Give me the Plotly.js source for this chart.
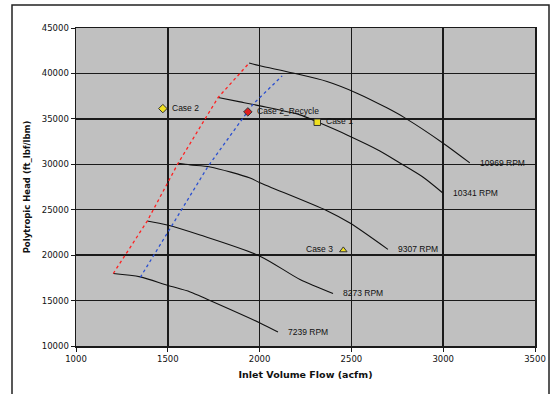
<!DOCTYPE html>
<html>
<head>
<meta charset="utf-8">
<script src="https://cdn.plot.ly/plotly-3.0.1.min.js"></script>
<style>html,body{margin:0;padding:0;background:#fff;}#chart{width:558px;height:394px;}</style>
</head>
<body>
<div id="chart"></div>
<script>
// Speed curves (inlet volume flow, acfm ; polytropic head, ft_lbf/lbm)
const rpm10969_x = [1943, 2002, 2182, 2367, 2530, 2693, 2791, 2998, 3145];
const rpm10969_y = [41140, 40840, 40040, 39110, 37830, 36210, 35110, 32350, 30150];
const rpm10341_x = [1774, 1894, 2002, 2220, 2313, 2476, 2655, 2764, 2889, 2998];
const rpm10341_y = [37350, 36870, 36430, 35440, 34670, 33230, 31470, 30150, 28600, 26840];
const rpm9307_x = [1556, 1622, 1731, 1948, 2002, 2367, 2492, 2699];
const rpm9307_y = [30110, 29930, 29710, 28490, 27970, 24890, 23530, 20630];
const rpm8273_x = [1388, 1497, 1676, 2002, 2220, 2400];
const rpm8273_y = [23750, 23310, 22210, 19890, 17320, 15780];
const rpm7239_x = [1203, 1350, 1497, 1622, 1714, 2002, 2100];
const rpm7239_y = [17980, 17610, 16690, 15950, 15150, 12540, 11540];
const speedLabels = ["10969 RPM", "10341 RPM", "9307 RPM", "8273 RPM", "7239 RPM"];

// Surge line (red) and control line (blue)
const surge_x = [1203, 1388, 1556, 1774, 1943];
const surge_y = [17980, 23750, 30110, 37350, 41140];
const control_x = [1350, 1524, 1720, 1965, 2123];
const control_y = [17550, 23290, 29800, 36640, 39730];

// Operating cases
const caseNames = ["Case 2", "Case 2_Recycle", "Case 1", "Case 3"];
const case_x = [1473, 1936, 2314, 2456];
const case_y = [36130, 35770, 34630, 20550];

const xTicks = [1000, 1500, 2000, 2500, 3000, 3500];
const yTicks = [10000, 15000, 20000, 25000, 30000, 35000, 40000, 45000];

const lblFont = {family: "Liberation Sans, Arial, sans-serif", size: 8.5, color: "#111"};
const tickFont = {family: "DejaVu Sans, Verdana, sans-serif", size: 8.5, color: "#111"};

const curves = [
  [rpm10969_x, rpm10969_y], [rpm10341_x, rpm10341_y], [rpm9307_x, rpm9307_y],
  [rpm8273_x, rpm8273_y], [rpm7239_x, rpm7239_y]
];

const traces = [];
curves.forEach(c => traces.push({
  x: c[0], y: c[1], type: "scatter", mode: "lines",
  line: {color: "#111", width: 1.1, shape: "spline", smoothing: 0.8}, hoverinfo: "skip"
}));
traces.push({x: surge_x, y: surge_y, type: "scatter", mode: "lines",
  line: {color: "#ff2020", width: 1.3, dash: "dot"}});
traces.push({x: control_x, y: control_y, type: "scatter", mode: "lines",
  line: {color: "#2a4fd0", width: 1.3, dash: "dot"}});

const symbols = ["diamond", "diamond", "square", "triangle-up"];
const fills = ["#f0e020", "#e02020", "#f0e020", "#f0e020"];
caseNames.forEach((n, i) => traces.push({
  x: [case_x[i]], y: [case_y[i]], type: "scatter", mode: "markers",
  marker: {symbol: symbols[i], size: 6.5, color: fills[i], line: {color: "#333", width: 1}}
}));

const annotations = [];
curves.forEach((c, i) => annotations.push({
  x: c[0][c[0].length - 1], y: c[1][c[1].length - 1], xref: "x", yref: "y",
  text: speedLabels[i], showarrow: false, xanchor: "left", yanchor: "middle",
  xshift: 8, font: lblFont
}));
caseNames.forEach((n, i) => annotations.push({
  x: case_x[i], y: case_y[i], xref: "x", yref: "y", text: n, showarrow: false,
  xanchor: i === 3 ? "right" : "left", yanchor: "middle",
  xshift: i === 3 ? -8 : 7, yshift: 1, font: lblFont
}));

const layout = {
  width: 558, height: 394,
  margin: {l: 76, r: 23, t: 28, b: 48},
  paper_bgcolor: "#ffffff", plot_bgcolor: "#c0c0c0",
  showlegend: false,
  xaxis: {
    range: [1000, 3500], tickvals: xTicks, ticktext: xTicks.map(String),
    showgrid: true, gridcolor: "#1a1a1a", gridwidth: 1.5,
    showline: true, linecolor: "#1a1a1a", linewidth: 1.5, mirror: true,
    ticks: "outside", ticklen: 4, tickcolor: "#1a1a1a", zeroline: false,
    tickfont: tickFont,
    title: {text: "Inlet Volume Flow (acfm)", standoff: 8,
      font: {family: "DejaVu Sans, Verdana, sans-serif", size: 9.5, color: "#111", weight: "bold"}}
  },
  yaxis: {
    range: [10000, 45000], tickvals: yTicks, ticktext: yTicks.map(String),
    showgrid: true, gridcolor: "#1a1a1a", gridwidth: 1.5,
    showline: true, linecolor: "#1a1a1a", linewidth: 1.5, mirror: true,
    ticks: "outside", ticklen: 4, tickcolor: "#1a1a1a", zeroline: false,
    tickfont: tickFont,
    title: {text: "Polytropic Head (ft_lbf/lbm)", standoff: 10,
      font: {family: "DejaVu Sans, Verdana, sans-serif", size: 8.5, color: "#111", weight: "bold"}}
  },
  annotations: annotations,
  shapes: [{
    type: "rect", xref: "paper", yref: "paper",
    x0: (12 - 76) / 459, x1: (549 - 76) / 459,
    y0: (346 - 400) / 318, y1: (346 - 5) / 318,
    line: {color: "#222", width: 1.5}, fillcolor: "rgba(0,0,0,0)", layer: "below"
  }]
};

Plotly.newPlot("chart", traces, layout, {staticPlot: true, displayModeBar: false});
</script>
</body>
</html>
